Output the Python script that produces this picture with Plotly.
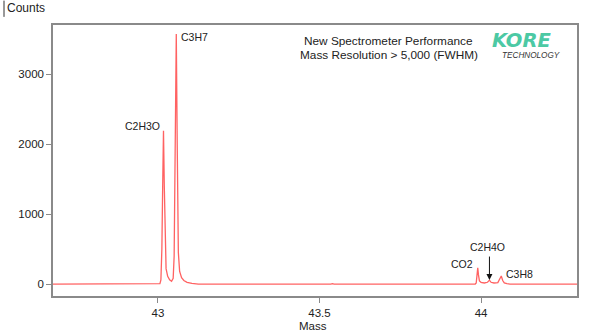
import plotly.graph_objects as go

# Spectrum (mass, counts)
mass = [42.675, 43.000, 43.006, 43.009, 43.012, 43.0145, 43.017, 43.0195, 43.022, 43.025,
        43.030, 43.036, 43.042, 43.047, 43.050, 43.0535, 43.0566, 43.0595, 43.063, 43.067,
        43.073, 43.080, 43.090, 43.105, 43.125, 43.535, 43.540, 43.545, 43.982, 43.985,
        43.9875, 43.9898, 43.992, 43.995, 44.000, 44.010, 44.020, 44.026, 44.031, 44.040,
        44.052, 44.057, 44.0626, 44.067, 44.072, 44.080, 44.090, 44.205, 44.210, 44.215, 44.297]
counts = [0, 0, 5, 60, 500, 1400, 2190, 1400, 500, 220,
          110, 60, 40, 80, 400, 2000, 3570, 2000, 450, 180,
          90, 50, 25, 8, 0, 0, 6, 0, 0, 15,
          130, 230, 130, 45, 25, 15, 25, 55, 25, 15,
          20, 60, 115, 50, 15, 5, 0, 0, 5, 0, 0]

x_ticks = [43, 43.5, 44]
x_tick_labels = ["43", "43.5", "44"]
y_ticks = [0, 1000, 2000, 3000]
y_tick_labels = ["0", "1000", "2000", "3000"]

FONT = "Arial, Liberation Sans, sans-serif"
AXC = "#8a8a8a"

fig = go.Figure()
fig.add_trace(go.Scatter(x=mass, y=counts, mode="lines",
                         line=dict(color="rgba(255,70,70,0.85)", width=1.3),
                         hoverinfo="skip", showlegend=False))

fig.update_layout(
    width=590, height=333,
    margin=dict(l=53, r=13, t=25, b=37),
    paper_bgcolor="white", plot_bgcolor="white",
    font=dict(family=FONT, size=11, color="#222"),
    xaxis=dict(range=[42.675, 44.297], tickvals=x_ticks, ticktext=x_tick_labels,
               showgrid=False, zeroline=False, showline=True, linecolor=AXC, linewidth=1.5,
               mirror=True, ticks="outside", ticklen=5, tickcolor=AXC,
               tickfont=dict(size=11.5, color="#222")),
    yaxis=dict(range=[-171, 3700], tickvals=y_ticks, ticktext=y_tick_labels,
               showgrid=False, zeroline=False, showline=True, linecolor=AXC, linewidth=1.5,
               mirror=True, ticks="outside", ticklen=5, tickcolor=AXC,
               tickfont=dict(size=11.5, color="#222")),
)

ann = []
ann.append(dict(x=43.012, y=2257, xref="x", yref="y", text="C2H3O", showarrow=False,
                xanchor="right", yanchor="middle", font=dict(size=10.5)))
ann.append(dict(x=43.066, y=3533, xref="x", yref="y", text="C3H7", showarrow=False,
                xanchor="left", yanchor="middle", font=dict(size=10.5)))
ann.append(dict(x=43.981, y=286, xref="x", yref="y", text="CO2", showarrow=False,
                xanchor="right", yanchor="middle", font=dict(size=10.5)))
ann.append(dict(x=44.020, y=533, xref="x", yref="y", text="C2H4O", showarrow=False,
                xanchor="center", yanchor="middle", font=dict(size=10.5)))
ann.append(dict(x=44.026, y=57, xref="x", yref="y", ax=44.026, ay=414, axref="x", ayref="y",
                text="", showarrow=True, arrowhead=2, arrowsize=1.2, arrowwidth=1,
                arrowcolor="#111"))
ann.append(dict(x=44.071, y=143, xref="x", yref="y", text="C3H8", showarrow=False,
                xanchor="left", yanchor="middle", font=dict(size=10.5)))
ann.append(dict(x=0.641, y=0.9428, xref="paper", yref="paper", text="New Spectrometer Performance",
                showarrow=False, xanchor="center", yanchor="middle", borderpad=0,
                font=dict(size=11.8)))
ann.append(dict(x=0.641, y=0.8911, xref="paper", yref="paper", text="Mass Resolution > 5,000 (FWHM)",
                showarrow=False, xanchor="center", yanchor="middle", borderpad=0,
                font=dict(size=11.8)))
ann.append(dict(x=0.836, y=0.9446, xref="paper", yref="paper", text="<b><i>KORE</i></b>",
                showarrow=False, xanchor="left", yanchor="middle", borderpad=0,
                font=dict(family="DejaVu Sans", size=19.5, color="#4cc9a4")))
ann.append(dict(x=0.855, y=0.8875, xref="paper", yref="paper", text="<i>TECHNOLOGY</i>",
                showarrow=False, xanchor="left", yanchor="middle", borderpad=0,
                font=dict(family=FONT, size=8.2, color="#333")))
ann.append(dict(x=-0.0925, y=1.063, xref="paper", yref="paper", text="Counts",
                showarrow=False, xanchor="left", yanchor="middle", font=dict(size=12)))
ann.append(dict(x=0.496, y=-0.111, xref="paper", yref="paper", text="Mass",
                showarrow=False, xanchor="center", yanchor="middle", font=dict(size=11.5)))
fig.update_layout(annotations=ann)

fig.add_shape(type="line", xref="paper", yref="paper", x0=-0.0935, x1=-0.0935, y0=1.03, y1=1.09,
              line=dict(color="#333", width=1))

fig.write_html("out.html")
